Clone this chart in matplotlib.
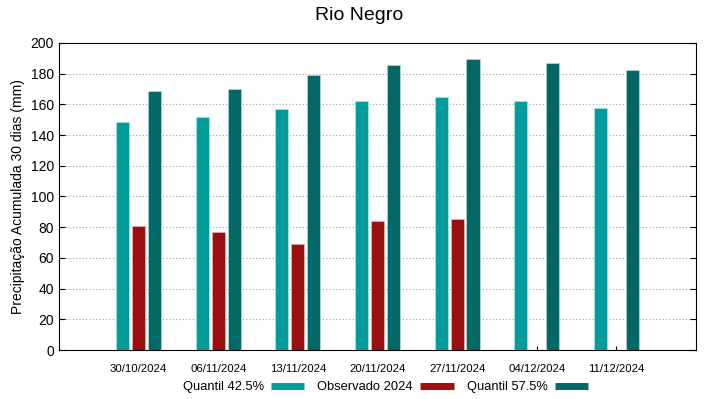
import numpy as np
import matplotlib
matplotlib.use("Agg")
import matplotlib.pyplot as plt
from matplotlib.lines import Line2D

plt.rcParams['font.family'] = ['Liberation Sans', 'DejaVu Sans']

# dados
datas = ["30/10/2024", "06/11/2024", "13/11/2024", "20/11/2024",
         "27/11/2024", "04/12/2024", "11/12/2024"]
quantil_425 = [148.5, 151.5, 156.8, 162.5, 164.5, 162.5, 157.8]
observado = [80.5, 76.8, 69.0, 84.0, 85.5, np.nan, np.nan]
quantil_575 = [168.6, 169.8, 179.0, 185.8, 189.3, 187.0, 182.2]

cor_q1 = "#039b9b"
cor_obs = "#9a0f10"
cor_q2 = "#026865"

x = np.arange(len(datas))
largura = 0.165
desloc = 0.2

fig = plt.figure(figsize=(7.19, 3.99), dpi=100)
ax = fig.add_axes([0.082, 0.1228, 0.886, 0.7695])

ax.bar(x - desloc, quantil_425, largura, color=cor_q1, edgecolor="#bfeeee", linewidth=0.4, zorder=3)
ax.bar(x, observado, largura, color=cor_obs, edgecolor="#f0c0c0", linewidth=0.4, zorder=3)
ax.bar(x + desloc, quantil_575, largura, color=cor_q2, edgecolor="#bfe0e0", linewidth=0.4, zorder=3)

ax.set_xlim(-1, 7)
ax.set_ylim(0, 200)
ax.set_yticks(np.arange(0, 201, 20))
ax.set_xticks(x)
ax.set_xticklabels(datas, fontsize=8.2)
ax.tick_params(axis='y', labelsize=10, direction='in', right=True, length=4)
ax.tick_params(axis='x', direction='in', length=3, pad=10)
for s in ax.spines.values():
    s.set_linewidth(0.8)

for yv in range(20, 200, 20):
    ax.axhline(yv, color="#a0a0a0", linestyle=(0, (1, 2)), linewidth=0.8, zorder=1)

ax.set_ylabel("Precipitação Acumulada 30 dias (mm)", fontsize=10, labelpad=4)
fig.text(0.5, 0.96, "Rio Negro", ha='center', va='center', fontsize=14)

handles = [Line2D([0], [0], color=c, lw=5, solid_capstyle='butt') for c in (cor_q1, cor_obs, cor_q2)]
fig.legend(handles, ["Quantil 42.5%", "Observado 2024", "Quantil 57.5%"],
           loc='center', bbox_to_anchor=(0.536, 0.03), ncol=3, frameon=False,
           markerfirst=False, handlelength=2.6, columnspacing=1.0, fontsize=9.3,
           handletextpad=0.55)

fig.savefig("out.png", dpi=100)
